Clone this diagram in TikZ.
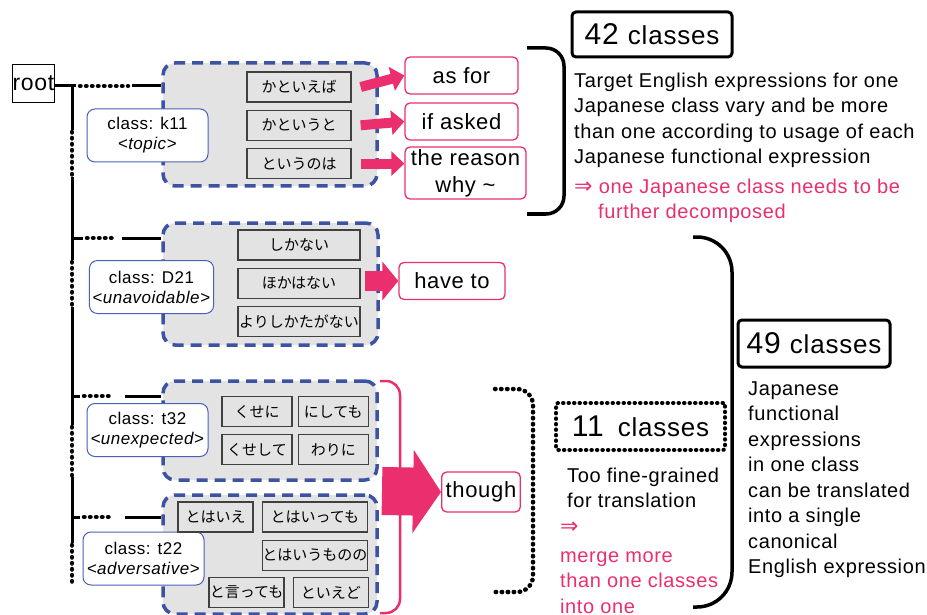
\documentclass[tikz,border=0pt]{standalone}
\usepackage{fontspec}
\setmainfont{Liberation Sans}[LetterSpace=3.0]
\newfontfamily\jpfont{Noto Sans CJK JP}
\newfontfamily\arrowfont{DejaVu Sans}
\usetikzlibrary{arrows.meta, positioning}

\definecolor{jpblue}{RGB}{60,82,162}
\definecolor{lblblue}{RGB}{72,96,182}
\definecolor{engpink}{RGB}{234,46,110}
\definecolor{boxgray}{RGB}{227,227,227}
\definecolor{itemedge}{RGB}{64,64,64}

\begin{document}
\begin{tikzpicture}[
    x=1pt, y=-1pt,
    group/.style={rectangle, draw=jpblue, fill=boxgray, line width=3.5pt, dash pattern=on 11pt off 7pt, rounded corners=12pt},
    item/.style={rectangle, draw=itemedge, fill=boxgray, line width=1.3pt, minimum height=30pt, inner sep=0pt, font=\jpfont\fontsize{15}{18}\selectfont},
    classlbl/.style={rectangle, draw=lblblue, fill=white, line width=1pt, rounded corners=8pt, align=center, minimum width=121pt, minimum height=53pt, inner xsep=3pt, font=\fontsize{17}{20}\selectfont},
    eng/.style={rectangle, draw=engpink, fill=white, line width=1.3pt, rounded corners=5pt, align=center, minimum height=37pt, inner xsep=4pt, inner ysep=1pt, font=\fontsize{22}{27}\selectfont},
    count/.style={rectangle, draw, line width=3pt, rounded corners=4pt, minimum height=46pt},
    note/.style={align=left, anchor=north west, inner sep=0pt, font=\fontsize{20}{25.5}\selectfont},
    tree/.style={line width=3pt},
    treedots/.style={line width=4.5pt, line cap=round, dash pattern=on 0.5pt off 5.5pt},
    toeng/.style={engpink, line width=10pt, -{Triangle[length=13pt, width=24pt]}},
    brace/.style={line width=3.5pt}
  ]
  \useasboundingbox (0,0) rectangle (927,615);

  \node[draw, line width=1pt, inner xsep=0.5pt, minimum height=38pt, font=\fontsize{23}{23}\selectfont] (root) at (33.5,83.5) {root};

  % branch points on the trunk
  \coordinate (bk11) at (72,86);
  \coordinate (bD21) at (72,238);
  \coordinate (bt32) at (72,396);
  \coordinate (bt22) at (72,517);

  % trunk
  \draw[tree] (bk11) -- (72,130);
  \draw[treedots] (72,132) -- (72,176);
  \draw[tree] (72,177) -- (72,260);
  \draw[treedots] (72,262) -- (72,306);
  \draw[tree] (72,307) -- (72,425);
  \draw[treedots] (72,427) -- (72,476);
  \draw[tree] (72,477) -- (72,543);
  \draw[treedots] (72,545) -- (72,585);

  % class groups
  \node[group, minimum width=214pt, minimum height=123pt] (gk11) at (270,124.5) {};
  \node[group, minimum width=215pt, minimum height=122pt] (gD21) at (270.5,284) {};
  \node[group, minimum width=214pt, minimum height=99pt] (gt32) at (270,430.5) {};
  \node[group, minimum width=214pt, minimum height=119pt] (gt22) at (270,554.5) {};

  % branches
  \draw[tree] (root.east |- bk11) -- ([xshift=4pt]bk11);
  \draw[treedots] ([xshift=8pt]bk11) -- ([xshift=56pt]bk11);
  \draw[tree] ([xshift=60pt]bk11) -- (bk11 -| gk11.west);

  \draw[tree] (bD21) -- ++(11,0);
  \draw[treedots] ([xshift=15pt]bD21) -- ([xshift=42pt]bD21);
  \draw[tree] ([xshift=50pt]bD21) -- (bD21 -| gD21.west);

  \draw[tree] (bt32) -- ++(8,0);
  \draw[treedots] ([xshift=12pt]bt32) -- ([xshift=38pt]bt32);
  \draw[tree] ([xshift=53pt]bt32) -- (bt32 -| gt32.west);

  \draw[tree] (bt22) -- ++(8,0);
  \draw[treedots] ([xshift=12pt]bt22) -- ([xshift=38pt]bt22);
  \draw[tree] ([xshift=53pt]bt22) -- (bt22 -| gt22.west);

  % class labels
  \node[classlbl] (lk11) at (147.5,135.5) {class: k11\\\textit{<topic>}};
  \node[classlbl] (lD21) at (151.5,287) {class: D21\\\textit{<unavoidable>}};
  \node[classlbl] (lt32) at (147.5,430) {class: t32\\\textit{<unexpected>}};
  \node[classlbl] (lt22) at (143.5,558.5) {class: t22\\\textit{<adversative>}};

  % k11
  \node[item, minimum width=104pt] (kA) at (299,87) {かといえば};
  \node[item, minimum width=104pt, below=7pt of kA] (kB) {かというと};
  \node[item, minimum width=104pt, below=7pt of kB] (kC) {というのは};

  % D21
  \node[item, minimum width=122pt] (dA) at (299,245) {しかない};
  \node[item, minimum width=122pt, below=7pt of dA] (dB) {ほかはない};
  \node[item, minimum width=122pt, below=7pt of dB] (dC) {よりしかたがない};

  % t32
  \node[item, minimum width=70pt] (tA) at (257,411.5) {くせに};
  \node[item, minimum width=70pt, right=5pt of tA] (tB) {にしても};
  \node[item, minimum width=70pt, below=7pt of tA] (tC) {くせして};
  \node[item, minimum width=70pt, below=7pt of tB] (tD) {わりに};

  % t22
  \node[item, minimum width=75pt] (sA) at (215.5,517) {とはいえ};
  \node[item, minimum width=105pt, right=8pt of sA] (sB) {とはいっても};
  \node[item, minimum width=105pt, below=7pt of sB] (sC) {とはいうものの};
  \node[item, minimum width=75pt] (sD) at (246.5,592.5) {と言っても};
  \node[item, minimum width=75pt, right=8pt of sD] (sE) {といえど};

  % English targets
  \node[eng, minimum width=113pt] (asfor) at (461.5,75.5) {as for};
  \node[eng, minimum width=113pt] (ifasked) at (461.5,121.5) {if asked};
  \node[eng, minimum width=121pt, minimum height=52pt] (reason) at (465.5,173) {the reason\\why \textasciitilde};
  \node[eng, minimum width=106pt] (haveto) at (452,281) {have to};
  \node[eng, minimum width=76pt, minimum height=40pt] (though) at (481,492) {though};

  \draw[toeng] ([xshift=9pt]kA.east) -- (asfor.west);
  \draw[toeng] ([xshift=9pt]kB.east) -- (ifasked.west);
  \draw[toeng] ([xshift=9pt]kC.east) -- (reason.west |- kC.east);
  \draw[engpink, line width=20pt, -{Triangle[length=16pt, width=38pt]}] ([xshift=-15pt]haveto.west -| gD21.east) -- (haveto.west);

  % t32 and t22 merged
  \draw[engpink, line width=2.5pt, rounded corners=14pt] (380,381) -- (400,381) -- (400,613) -- (380,613);
  \coordinate (merge) at (382,491);
  \draw[engpink, line width=48pt, -{Triangle[length=28pt, width=82pt]}] (merge) -- (though.west);

  % braces
  \draw[brace, rounded corners=18pt] (527,48) -- (564,48) -- (564,214) -- (527,214);
  \draw[brace, rounded corners=35pt] (693,237) -- (732,237) -- (732,607) -- (693,607);
  \draw[treedots, rounded corners=16pt] (495,389) -- (533,389) -- (533,592) -- (495,592);

  % counts and notes
  \node[count, minimum width=160pt, minimum height=45pt] (n42) at (652,34.5) {{\fontsize{30}{32}\selectfont 42}\hspace{9pt}{\fontsize{26}{30}\selectfont classes}};
  \node[note] (txt42) at (574,72.7) {\vphantom{l}Target English expressions for one\\Japanese class vary and be more\\than one according to usage of each\\Japanese functional expression};
  \node[note, text=engpink] (fix42) at (574,178.7) {\vphantom{l}{\arrowfont\fontsize{22}{25}\selectfont ⇒} one Japanese class needs to be\\\hspace*{24pt}further decomposed};

  \node[count, minimum width=152pt, minimum height=47pt] (n49) at (814,343.5) {{\fontsize{30}{32}\selectfont 49}\hspace{9pt}{\fontsize{26}{30}\selectfont classes}};
  \node[note] (txt49) at (748,380.7) {\vphantom{l}Japanese\\functional\\expressions\\in one class\\can be translated\\into a single\\canonical\\English expression};

  \node[count, line width=4pt, dash pattern=on 0.5pt off 5pt, line cap=round, rounded corners=2pt, minimum width=169pt, minimum height=47pt] (n11) at (640.5,426.5) {{\fontsize{30}{32}\selectfont 11}\hspace{14pt}{\fontsize{26}{30}\selectfont classes}};
  \node[note] (txt11) at (567,467.7) {\vphantom{l}Too fine-grained\\for translation};
  \node[note, text=engpink] (fix11) at (560,518.7) {\vphantom{l}{\arrowfont\fontsize{22}{25}\selectfont ⇒}\\[3.5pt]merge more\\than one classes\\into one};
\end{tikzpicture}
\end{document}
